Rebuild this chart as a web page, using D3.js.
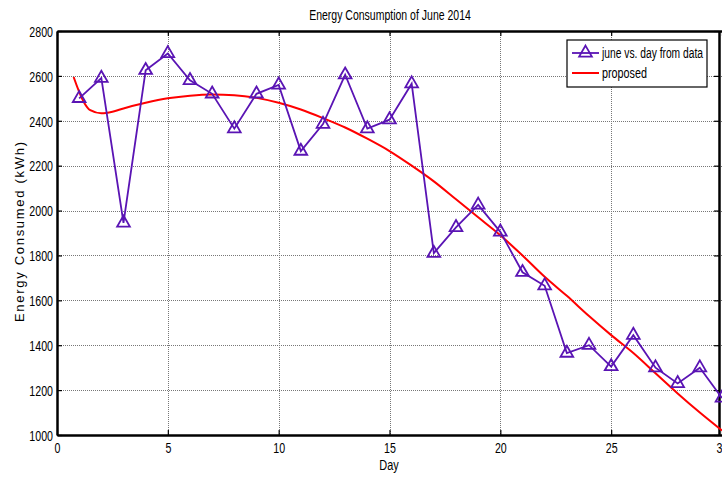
<!DOCTYPE html>
<html lang="en">
<head>
<meta charset="UTF-8">
<title>Energy Consumption of June 2014</title>
<script src="https://d3js.org/d3.v7.min.js"></script>
<style>
  body { margin: 0; background: #fff; overflow: hidden; }
  svg { display: block; }
  text { font-family: "Liberation Sans", Arial, sans-serif; }
</style>
</head>
<body>
<svg id="chart" width="722" height="477"></svg>
<script>
// measured energy, one value per day of June
const days = d3.range(1, 31);
const juneData = [2500, 2590, 1945, 2625, 2700, 2580, 2520, 2365, 2520, 2560,
                  2265, 2385, 2605, 2365, 2405, 2565, 1810, 1925, 2025, 1905,
                  1725, 1665, 1365, 1400, 1305, 1445, 1300, 1230, 1300, 1165];

// proposed model curve
const modelDays = [0.75, 1.2, 1.5, 2, 2.5, 3, 4, 5, 6, 7, 8, 9, 10, 11, 12, 13, 14, 15,
                   16, 17, 18, 19, 20, 21, 22, 23, 24, 25, 26, 27, 28, 29, 30];
const modelValues = [2595, 2485, 2447, 2433, 2440, 2455, 2480, 2500, 2512, 2517, 2514, 2502,
                     2480, 2450, 2412, 2370, 2320, 2265, 2200, 2130, 2050, 1970, 1890, 1800,
                     1705, 1620, 1530, 1445, 1365, 1275, 1185, 1100, 1020];

const xTicks = [0, 5, 10, 15, 20, 25, 30];
const yTicks = [1000, 1200, 1400, 1600, 1800, 2000, 2200, 2400, 2600, 2800];

const margin = {left: 57, top: 31, right: 722, bottom: 435};
const purple = "#5a14b4";

const svg = d3.select("#chart");
const x = d3.scaleLinear().domain([0, 30]).range([margin.left, margin.right]);
const y = d3.scaleLinear().domain([1000, 2800]).range([margin.bottom, margin.top]);

// squeeze text horizontally to mimic the narrow font of the original
function narrow(sel, k) {
  sel.each(function () {
    const w = this.getComputedTextLength();
    d3.select(this).attr("textLength", w * k).attr("lengthAdjust", "spacingAndGlyphs");
  });
}

// grid
const grid = svg.append("g").attr("stroke", "#777").attr("stroke-width", 1).attr("stroke-dasharray", "1,1");
grid.selectAll(".gx").data(xTicks.slice(1, -1)).enter().append("line")
  .attr("x1", d => Math.round(x(d)) + 0.5).attr("x2", d => Math.round(x(d)) + 0.5)
  .attr("y1", margin.top).attr("y2", margin.bottom);
grid.selectAll(".gy").data(yTicks.slice(1, -1)).enter().append("line")
  .attr("y1", d => Math.round(y(d)) + 0.5).attr("y2", d => Math.round(y(d)) + 0.5)
  .attr("x1", margin.left).attr("x2", margin.right);

// axes
const xAxis = d3.axisBottom(x).tickValues(xTicks).tickSizeInner(-5).tickSizeOuter(0).tickPadding(8);
const yAxis = d3.axisLeft(y).tickValues(yTicks).tickFormat(d3.format("d"))
  .tickSizeInner(-5).tickSizeOuter(0).tickPadding(9);

const gx = svg.append("g").attr("transform", `translate(0,${margin.bottom})`).call(xAxis);
const gy = svg.append("g").attr("transform", `translate(${margin.left},0)`).call(yAxis);
svg.append("g").attr("transform", `translate(0,${margin.top})`)
  .call(d3.axisTop(x).tickValues(xTicks).tickSizeInner(-5).tickSizeOuter(0).tickFormat(""));
svg.append("g").attr("transform", `translate(${margin.right - 3},0)`)
  .call(d3.axisRight(y).tickValues(yTicks).tickSizeInner(-5).tickSizeOuter(0).tickFormat(""));

svg.selectAll(".domain").attr("stroke", "#000").attr("stroke-width", 2.5);
svg.selectAll(".tick line").attr("stroke", "#000").attr("stroke-width", 1.2);
svg.selectAll(".tick text").attr("font-family", null).attr("font-size", 14).attr("fill", "#000");
gy.selectAll(".tick text").attr("x", -4).attr("dy", "0.38em");
gx.selectAll(".tick text").attr("dy", "0.72em");
narrow(svg.selectAll(".tick text"), 0.76);

// model curve
const line = d3.line().x(d => x(d[0])).y(d => y(d[1])).curve(d3.curveMonotoneX);
svg.append("path")
  .datum(d3.zip(modelDays, modelValues))
  .attr("fill", "none").attr("stroke", "#ff0000").attr("stroke-width", 2)
  .attr("d", line);

// data series
const pts = d3.zip(days, juneData);
svg.append("path")
  .datum(pts)
  .attr("fill", "none").attr("stroke", purple).attr("stroke-width", 1.8)
  .attr("d", d3.line().x(d => x(d[0])).y(d => y(d[1])));

const tri = d3.symbol().type(d3.symbolTriangle).size(70);
svg.selectAll(".mk").data(pts).enter().append("path")
  .attr("transform", d => `translate(${x(d[0])},${y(d[1])})`)
  .attr("d", tri)
  .attr("fill", "none").attr("stroke", purple).attr("stroke-width", 1.8);

// title and labels
const title = svg.append("text")
  .attr("x", 390).attr("y", 20).attr("text-anchor", "middle")
  .attr("font-size", 14).text("Energy Consumption of June 2014");
narrow(title, 0.75);
const xl = svg.append("text")
  .attr("x", 389).attr("y", 470).attr("text-anchor", "middle")
  .attr("font-size", 14).text("Day");
narrow(xl, 0.78);
svg.append("text")
  .attr("transform", "translate(24,232) rotate(-90)")
  .attr("text-anchor", "middle")
  .attr("font-size", 13)
  .attr("textLength", 180).attr("lengthAdjust", "spacing")
  .text("Energy Consumed (kWh)");

// legend
const lg = svg.append("g").attr("transform", "translate(567,40)");
lg.append("rect").attr("width", 140).attr("height", 47)
  .attr("fill", "#fff").attr("stroke", "#000").attr("stroke-width", 1.2);
lg.append("line").attr("x1", 5).attr("x2", 32).attr("y1", 13).attr("y2", 13)
  .attr("stroke", purple).attr("stroke-width", 1.8);
lg.append("path").attr("transform", "translate(18.5,13)").attr("d", tri)
  .attr("fill", "none").attr("stroke", purple).attr("stroke-width", 1.8);
lg.append("text").attr("x", 35).attr("y", 18)
  .attr("font-size", 14).attr("textLength", 101).attr("lengthAdjust", "spacingAndGlyphs")
  .text("june vs. day from data");
lg.append("line").attr("x1", 5).attr("x2", 32).attr("y1", 33).attr("y2", 33)
  .attr("stroke", "#ff0000").attr("stroke-width", 2);
lg.append("text").attr("x", 35).attr("y", 38)
  .attr("font-size", 14).attr("textLength", 45).attr("lengthAdjust", "spacingAndGlyphs")
  .text("proposed");
</script>
</body>
</html>
